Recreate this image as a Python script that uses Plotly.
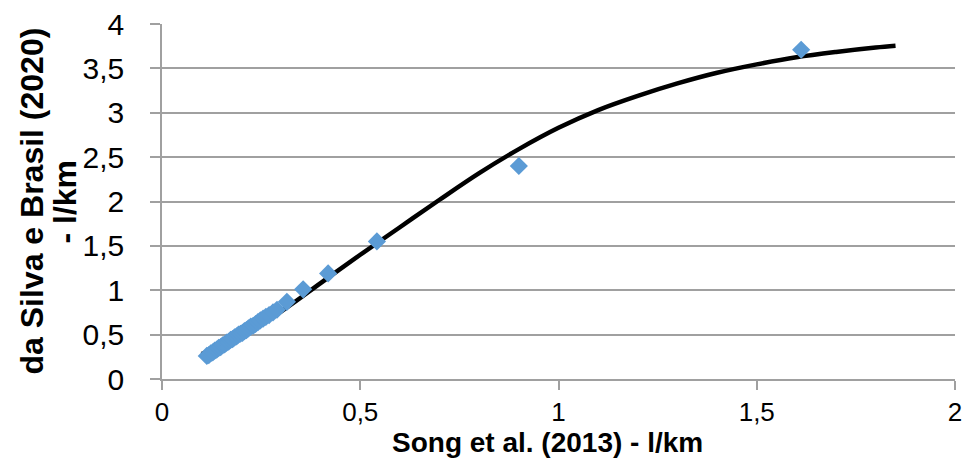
import plotly.graph_objects as go

# Observed pairs: Song et al. (2013) vs da Silva e Brasil (2020), l/km
song_x = [0.113, 0.118, 0.123, 0.128, 0.133, 0.138, 0.143, 0.148, 0.153, 0.158,
          0.163, 0.168, 0.173, 0.178, 0.183, 0.188, 0.193, 0.198, 0.203, 0.208,
          0.213, 0.218, 0.224, 0.230, 0.236, 0.242, 0.248, 0.255, 0.262, 0.270,
          0.280, 0.290, 0.315, 0.356, 0.419, 0.542, 0.900, 1.612]
silva_y = [0.26, 0.27, 0.29, 0.30, 0.32, 0.33, 0.35, 0.36, 0.38, 0.39,
           0.41, 0.42, 0.44, 0.45, 0.47, 0.48, 0.50, 0.51, 0.52, 0.54,
           0.55, 0.57, 0.59, 0.60, 0.62, 0.64, 0.66, 0.68, 0.70, 0.72,
           0.75, 0.78, 0.87, 1.01, 1.19, 1.55, 2.40, 3.71]

# Fitted trend curve
fit_x = [0.10, 0.20, 0.30, 0.40, 0.50, 0.60, 0.70, 0.80, 0.90, 1.00,
         1.10, 1.20, 1.30, 1.40, 1.50, 1.60, 1.70, 1.80, 1.85]
fit_y = [0.28, 0.49, 0.76, 1.08, 1.40, 1.71, 2.02, 2.32, 2.59, 2.83,
         3.03, 3.19, 3.33, 3.45, 3.545, 3.625, 3.685, 3.735, 3.755]

x_ticks = [0, 0.5, 1, 1.5, 2]
x_tick_text = ["0", "0,5", "1", "1,5", "2"]
y_ticks = [0, 0.5, 1, 1.5, 2, 2.5, 3, 3.5, 4]
y_tick_text = ["0", "0,5", "1", "1,5", "2", "2,5", "3", "3,5", "4"]

x_title = "Song et al. (2013) - l/km"
y_title_lines = ["da Silva e Brasil (2020)", "- l/km"]

FONT = "Liberation Sans, Arial, sans-serif"
GRID = "#A0A0A0"

W, H = 965, 461
ML, MR, MT, MB = 162, 10, 24, 82
PW, PH = W - ML - MR, H - MT - MB


def paper_x(px):
    return (px - ML) / PW


def paper_y(py):
    return (H - MB - py) / PH


fig = go.Figure()
fig.add_trace(go.Scatter(
    x=fit_x, y=fit_y, mode="lines",
    line=dict(color="black", width=4.5, shape="spline", smoothing=1.0),
    showlegend=False, hoverinfo="skip",
))
fig.add_trace(go.Scatter(
    x=song_x, y=silva_y, mode="markers",
    marker=dict(symbol="diamond", size=14, color="#5B9BD5", line=dict(width=0)),
    showlegend=False,
))

fig.update_layout(
    width=W, height=H,
    margin=dict(l=ML, r=MR, t=MT, b=MB),
    paper_bgcolor="white", plot_bgcolor="white",
    font=dict(family=FONT, color="black"),
    xaxis=dict(
        range=[0, 2], tickvals=x_ticks, ticktext=x_tick_text,
        automargin=False,
        showgrid=False, zeroline=False,
        showline=True, linecolor=GRID, linewidth=1.5,
        ticks="outside", ticklen=9, tickcolor=GRID, tickwidth=1.5,
        ticklabelstandoff=0,
        tickfont=dict(size=26, family=FONT),
    ),
    yaxis=dict(
        range=[0, 4], tickvals=y_ticks, ticktext=y_tick_text,
        automargin=False,
        showgrid=True, gridcolor=GRID, gridwidth=1.5,
        zeroline=False,
        showline=True, linecolor=GRID, linewidth=1.5,
        ticks="outside", ticklen=10, tickcolor=GRID, tickwidth=1.5,
        ticklabelstandoff=20,
        tickfont=dict(size=30, family=FONT),
    ),
)

# x-axis title
fig.add_annotation(
    text=f"<b>{x_title}</b>",
    xref="paper", yref="paper", x=paper_x(547), y=paper_y(442),
    xanchor="center", yanchor="middle", showarrow=False,
    font=dict(size=28, family=FONT, color="black"),
)

# Two-line rotated y-axis title
for line_text, px in zip(y_title_lines, [31, 64]):
    fig.add_annotation(
        text=f"<b>{line_text}</b>", textangle=-90,
        xref="paper", yref="paper", x=paper_x(px), y=0.5,
        xanchor="center", yanchor="middle", showarrow=False,
        font=dict(size=32, family=FONT, color="black"),
    )

fig.write_html("out.html")
